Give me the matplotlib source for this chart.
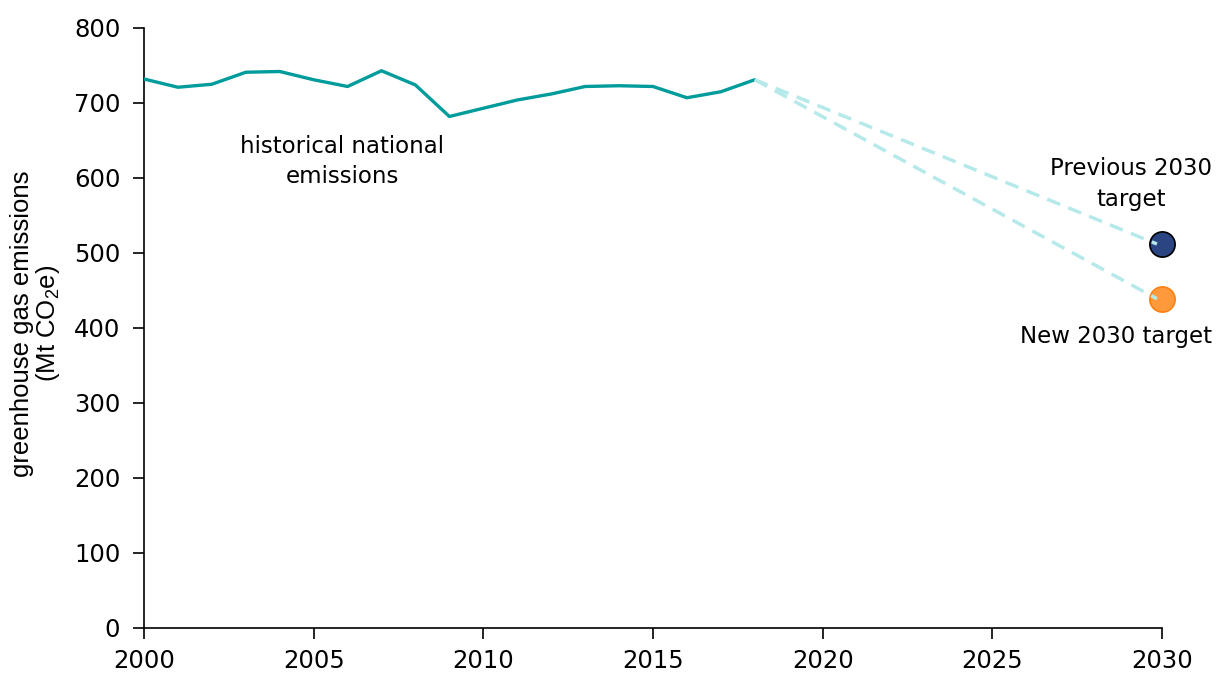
import matplotlib.pyplot as plt

plt.rcParams['font.family'] = ['DejaVu Sans']

years = list(range(2000, 2019))
emissions = [732, 721, 725, 741, 742, 731, 722, 743, 724, 682, 693, 704, 712, 722,
             723, 722, 707, 715, 731]

target_year = 2030
previous_target = 512
new_target = 439

teal = '#009b9b'
dash_col = '#b6e9ea'

fig = plt.figure(figsize=(12.17, 6.73), dpi=100)
ax = fig.add_axes([0.1183, 0.0669, 0.8365, 0.8915])

# historical line
ax.plot(years, emissions, color=teal, lw=2.4, solid_capstyle='round', zorder=3)

# projections to targets
ax.scatter([target_year], [previous_target], s=330, color='#2b4482',
           edgecolor='black', linewidth=1.2, zorder=4, clip_on=False)
ax.scatter([target_year], [new_target], s=330, color='#ff9a3c',
           edgecolor='#ff7f11', linewidth=1.2, zorder=4, clip_on=False)
for t in (previous_target, new_target):
    ax.plot([years[-1], target_year - 0.15], [emissions[-1], t], color=dash_col,
            lw=2.5, ls=(0, (4, 2.5)), zorder=5)

# labels
ax.text(2005.85, 622, 'historical national\nemissions', ha='center', va='center',
        fontsize=16.5, linespacing=1.4)
ax.text(2029.1, 592, 'Previous 2030\ntarget', ha='center', va='center',
        fontsize=16.5, linespacing=1.4)
ax.text(2028.65, 388, 'New 2030 target', ha='center', va='center', fontsize=16.5)

ax.set_xlim(2000, 2030)
ax.set_ylim(0, 800)
ax.set_xticks(range(2000, 2031, 5))
ax.set_yticks(range(0, 801, 100))
ax.tick_params(axis='both', labelsize=17.5, length=8, width=1.2, direction='out')
ax.tick_params(axis='x', pad=7)
ax.tick_params(axis='y', pad=9)
ax.spines['top'].set_visible(False)
ax.spines['right'].set_visible(False)
ax.spines['left'].set_linewidth(1.2)
ax.spines['bottom'].set_linewidth(1.2)

ax.set_ylabel('greenhouse gas emissions\n(Mt CO$_\\mathregular{2}$e)', fontsize=18.5,
              family=['Liberation Sans', 'DejaVu Sans'], linespacing=1.0)
ax.yaxis.set_label_coords(-0.081, 0.507)

fig.savefig('out.png', dpi=100)
